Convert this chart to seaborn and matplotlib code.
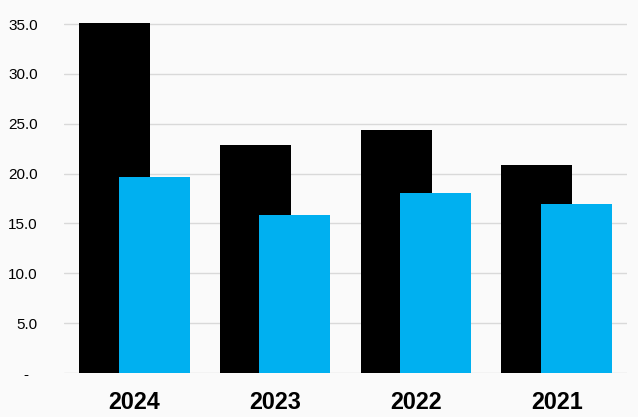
import matplotlib
matplotlib.use("Agg")
import matplotlib.pyplot as plt
import seaborn as sns
import pandas as pd

years = ["2024", "2023", "2022", "2021"]
series_a = [35.1, 22.9, 24.4, 20.9]   # black
series_b = [19.7, 15.8, 18.1, 17.0]   # blue
yticks = [0, 5, 10, 15, 20, 25, 30, 35]
ytick_labels = ["-  ", "5.0", "10.0", "15.0", "20.0", "25.0", "30.0", "35.0"]

sns.set_theme(style="white")
plt.rcParams["font.family"] = ["Liberation Sans", "DejaVu Sans"]

bg = "#fafafa"
fig = plt.figure(figsize=(6.38, 4.17), dpi=100, facecolor=bg)
ax = fig.add_axes([0.1003, 0.1055, 0.8825, 0.8415])
ax.set_facecolor(bg)

df_a = pd.DataFrame({"year": years, "value": series_a})
df_b = pd.DataFrame({"year": years, "value": series_b})

width = 0.505
offset = 0.14
sns.barplot(data=df_a, x="year", y="value", color="#000000", width=width,
            saturation=1, ax=ax, zorder=2)
n_a = len(ax.patches)
sns.barplot(data=df_b, x="year", y="value", color="#00b0f0", width=width,
            saturation=1, ax=ax, zorder=3)
for i, p in enumerate(ax.patches):
    p.set_linewidth(0)
    p.set_x(p.get_x() + (-offset if i < n_a else offset))

ax.set_xlim(-0.5, len(years) - 0.5)
ax.set_ylim(0, 35.2)
ax.set_yticks(yticks)
ax.set_yticklabels(ytick_labels)
ax.yaxis.grid(True, color="#d9d9d9", linewidth=1)
ax.set_axisbelow(True)
for s in ax.spines.values():
    s.set_visible(False)
ax.tick_params(axis="y", length=0, pad=19, labelsize=11, labelcolor="#000000")
ax.tick_params(axis="x", length=0, pad=13, labelsize=16.8, labelcolor="#000000")
for lab in ax.get_xticklabels():
    lab.set_fontweight("bold")
ax.set_xlabel("")
ax.set_ylabel("")

fig.savefig("out.png", dpi=100, facecolor=bg)
